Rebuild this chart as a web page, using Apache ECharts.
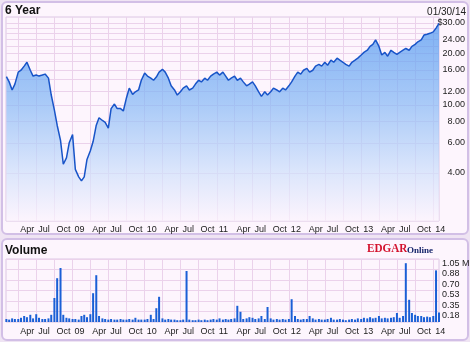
<!DOCTYPE html>
<html><head><meta charset="utf-8">
<script src="https://cdn.jsdelivr.net/npm/echarts@6/dist/echarts.min.js"></script>
<style>html,body{margin:0;padding:0;background:#efe4f3;}#c{width:470px;height:342px;}</style>
</head><body><div id="c"></div>
<script>
// ---------- data ----------
const startDate = '2008-01-30';
const endDate = '2014-01-30';
const dates = [
'2008-02-01','2008-02-15','2008-03-01','2008-03-15','2008-04-01','2008-04-15','2008-05-01','2008-05-15','2008-06-01','2008-06-15','2008-07-01','2008-07-15','2008-08-01','2008-08-15','2008-09-01','2008-09-15','2008-10-01','2008-10-15','2008-11-01','2008-11-15','2008-12-01','2008-12-15',
'2009-01-01','2009-01-15','2009-02-01','2009-02-15','2009-03-01','2009-03-15','2009-04-01','2009-04-15','2009-05-01','2009-05-15','2009-06-01','2009-06-15','2009-07-01','2009-07-15','2009-08-01','2009-08-15','2009-09-01','2009-09-15','2009-10-01','2009-10-15','2009-11-01','2009-11-15','2009-12-01','2009-12-15',
'2010-01-01','2010-01-15','2010-02-01','2010-02-15','2010-03-01','2010-03-15','2010-04-01','2010-04-15','2010-05-01','2010-05-15','2010-06-01','2010-06-15','2010-07-01','2010-07-15','2010-08-01','2010-08-15','2010-09-01','2010-09-15','2010-10-01','2010-10-15','2010-11-01','2010-11-15','2010-12-01','2010-12-15',
'2011-01-01','2011-01-15','2011-02-01','2011-02-15','2011-03-01','2011-03-15','2011-04-01','2011-04-15','2011-05-01','2011-05-15','2011-06-01','2011-06-15','2011-07-01','2011-07-15','2011-08-01','2011-08-15','2011-09-01','2011-09-15','2011-10-01','2011-10-15','2011-11-01','2011-11-15','2011-12-01','2011-12-15',
'2012-01-01','2012-01-15','2012-02-01','2012-02-15','2012-03-01','2012-03-15','2012-04-01','2012-04-15','2012-05-01','2012-05-15','2012-06-01','2012-06-15','2012-07-01','2012-07-15','2012-08-01','2012-08-15','2012-09-01','2012-09-15','2012-10-01','2012-10-15','2012-11-01','2012-11-15','2012-12-01','2012-12-15',
'2013-01-01','2013-01-15','2013-02-01','2013-02-15','2013-03-01','2013-03-15','2013-04-01','2013-04-15','2013-05-01','2013-05-15','2013-06-01','2013-06-15','2013-07-01','2013-07-15','2013-08-01','2013-08-15','2013-09-01','2013-09-15','2013-10-01','2013-10-15','2013-11-01','2013-11-15','2013-12-01','2013-12-15',
'2014-01-01','2014-01-15','2014-01-30'
];
const prices = [
14.6,13.6,12.2,13.2,15.5,15.9,16.8,17.7,15.9,14.7,14.9,14.7,14.9,15.1,14.3,11.4,9.3,7.6,6.2,4.5,4.9,6.0,
6.7,4.2,3.8,3.6,3.8,4.8,5.4,6.1,7.6,8.4,8.1,7.9,7.3,9.5,10.1,9.5,9.5,9.2,11.0,12.5,11.5,11.9,12.2,13.9,
15.3,14.7,14.3,13.9,14.5,15.5,16.1,15.5,14.3,12.9,12.2,11.4,11.9,12.5,12.9,12.2,12.5,13.2,13.9,13.6,14.3,13.9,14.7,15.1,
15.5,14.9,15.5,14.7,13.9,14.3,14.7,13.9,14.3,13.6,12.9,13.2,13.6,12.9,11.9,11.2,11.9,11.4,11.9,12.5,12.2,11.9,12.5,12.2,
12.9,13.6,14.7,15.5,15.1,15.9,16.3,15.5,15.9,16.8,17.2,16.8,17.7,17.0,18.2,17.7,18.7,18.2,17.7,17.2,16.8,17.7,18.2,18.7,
19.5,20.2,20.8,21.9,22.5,23.9,21.9,19.5,20.2,19.2,20.8,20.2,19.7,20.2,20.8,21.3,20.8,21.9,22.5,23.3,23.9,25.5,25.8,26.1,
26.6,28.0,29.8
];
const volumes = [
0.05,0.04,0.06,0.05,0.05,0.07,0.10,0.08,0.12,0.06,0.13,0.07,0.05,0.05,0.06,0.12,0.40,0.73,0.90,0.12,0.07,0.06,
0.05,0.05,0.04,0.10,0.12,0.08,0.13,0.48,0.78,0.10,0.06,0.05,0.04,0.05,0.04,0.04,0.05,0.04,0.04,0.05,0.04,0.07,0.04,0.04,
0.04,0.05,0.12,0.05,0.23,0.42,0.06,0.04,0.05,0.04,0.04,0.03,0.03,0.04,0.85,0.04,0.03,0.03,0.04,0.03,0.04,0.03,0.04,0.05,
0.04,0.06,0.04,0.05,0.04,0.05,0.06,0.27,0.17,0.05,0.06,0.08,0.07,0.05,0.06,0.10,0.05,0.25,0.06,0.04,0.05,0.04,0.05,0.04,
0.05,0.38,0.10,0.05,0.04,0.05,0.05,0.10,0.06,0.04,0.05,0.04,0.04,0.05,0.07,0.04,0.04,0.05,0.04,0.03,0.04,0.05,0.04,0.06,
0.05,0.07,0.06,0.08,0.06,0.07,0.10,0.06,0.07,0.06,0.07,0.08,0.15,0.07,0.10,0.98,0.37,0.15,0.12,0.10,0.10,0.08,0.09,0.08,
0.10,0.86,0.16
];
const quarterTicks = ['2008-04-01','2008-07-01','2008-10-01',
'2009-01-01','2009-04-01','2009-07-01','2009-10-01',
'2010-01-01','2010-04-01','2010-07-01','2010-10-01',
'2011-01-01','2011-04-01','2011-07-01','2011-10-01',
'2012-01-01','2012-04-01','2012-07-01','2012-10-01',
'2013-01-01','2013-04-01','2013-07-01','2013-10-01','2014-01-01'];
const quarterLabels = ['Apr','Jul','Oct','09','Apr','Jul','Oct','10','Apr','Jul','Oct','11','Apr','Jul','Oct','12','Apr','Jul','Oct','13','Apr','Jul','Oct','14'];
const priceTicks = [4,6,8,10,12,16,20,24,30];
const priceTickLabels = ['4.00','6.00','8.00','10.00','12.00','16.00','20.00','24.00','$30.00'];
const priceGridValues = [4,6,8,10,12,14,16,18,20,22,24,26,28,30];
const priceMin = 2.1, priceMax = 32.5;
const volTicks = [0.175,0.35,0.525,0.70,0.875,1.05];
const volTickLabels = ['0.18','0.35','0.53','0.70','0.88','1.05 M'];
const volMax = 1.05;

// ---------- helpers ----------
const ts = s => { const p = s.split('-').map(Number); return Date.UTC(p[0], p[1]-1, p[2]); };
const nearest = (arr, v) => { let bi = 0, bd = Infinity; arr.forEach((a, i) => { const d = Math.abs(a - v); if (d < bd) { bd = d; bi = i; } }); return bi; };
const quarterTs = quarterTicks.map(ts);
const priceLogTicks = priceTicks.map(Math.log10);
const priceLogGrid = priceGridValues.map(Math.log10);
const priceData = dates.map((d, i) => [ts(d), prices[i]]);
const volData = dates.map((d, i) => [ts(d), volumes[i]]);

const FONT = 'Liberation Sans';
const GRIDC = '#ebd2eb';
const LBL = '#222';

function xAxisFor(gridIndex, margin) {
  return {
    type: 'value', gridIndex, min: ts(startDate), max: ts(endDate), scale: true,
    axisLine: {show: false},
    axisTick: {show: false, customValues: quarterTs},
    axisLabel: {
      customValues: quarterTs,
      formatter: v => quarterLabels[nearest(quarterTs, v)],
      align: 'left', padding: [0, 0, 0, 2], margin,
      fontSize: 9, color: LBL, fontFamily: FONT
    },
    splitLine: {show: true, lineStyle: {color: GRIDC, width: 1}}
  };
}

const chart = echarts.init(document.getElementById('c'));
chart.setOption({
  animation: false,
  backgroundColor: '#efe4f3',
  textStyle: {fontFamily: FONT},
  graphic: [
    {type: 'rect', z: -10, shape: {x: 2, y: 2, width: 466, height: 232, r: 5},
     style: {fill: '#fdf5fd', stroke: '#d2bfe6', lineWidth: 2}},
    {type: 'rect', z: -10, shape: {x: 2, y: 239, width: 466, height: 101, r: 5},
     style: {fill: '#fdf5fd', stroke: '#d2bfe6', lineWidth: 2}},
    {type: 'text', z: 10, style: {text: '6 Year', x: 5, y: 11, font: 'bold 12px "Liberation Sans"', fill: '#111', align: 'left', verticalAlign: 'middle'}},
    {type: 'text', z: 10, style: {text: '01/30/14', x: 466, y: 12, font: '10px "Liberation Sans"', fill: LBL, align: 'right', verticalAlign: 'middle'}},
    {type: 'text', z: 10, style: {text: 'Volume', x: 5, y: 251, font: 'bold 12px "Liberation Sans"', fill: '#111', align: 'left', verticalAlign: 'middle'}},
    {type: 'text', z: 10, x: 367, y: 249, scaleX: 0.86,
     style: {text: 'EDGAR', x: 0, y: 0, font: 'bold 13px "Liberation Serif"', fill: '#d3122d', align: 'left', verticalAlign: 'middle'}},
    {type: 'text', z: 10, style: {text: 'Online', x: 407, y: 250.5, font: 'bold 9px "Liberation Serif"', fill: '#17266b', align: 'left', verticalAlign: 'middle'}}
  ],
  grid: [
    {left: 6, right: 31, top: 17, height: 204, show: true, backgroundColor: '#fdf5fd', borderColor: '#dcc6e4', borderWidth: 1, outerBoundsMode: 'none', containLabel: false},
    {left: 6, right: 31, top: 259, height: 63, show: true, backgroundColor: '#fdf5fd', borderColor: '#dcc6e4', borderWidth: 1, outerBoundsMode: 'none', containLabel: false}
  ],
  xAxis: [xAxisFor(0, 4), xAxisFor(1, 5)],
  yAxis: [
    {type: 'log', gridIndex: 0, min: priceMin, max: priceMax, show: false},
    {type: 'value', gridIndex: 0, position: 'right', min: Math.log10(priceMin), max: Math.log10(priceMax),
     axisLine: {show: false},
     axisTick: {show: false, customValues: priceLogGrid},
     axisLabel: {customValues: priceLogTicks, formatter: v => priceTickLabels[nearest(priceLogTicks, v)],
       align: 'right', margin: 26, fontSize: 9, color: LBL, fontFamily: FONT},
     splitLine: {show: true, lineStyle: {color: GRIDC, width: 1}}},
    {type: 'value', gridIndex: 1, position: 'right', min: 0, max: volMax,
     axisLine: {show: false},
     axisTick: {show: false, customValues: volTicks},
     axisLabel: {customValues: volTicks, formatter: v => volTickLabels[nearest(volTicks, v)],
       align: 'left', verticalAlign: 'top', margin: 3, fontSize: 9, color: LBL, fontFamily: FONT},
     splitLine: {show: true, lineStyle: {color: GRIDC, width: 1}}}
  ],
  series: [
    {type: 'line', xAxisIndex: 0, yAxisIndex: 0, data: priceData, symbol: 'none', smooth: false,
     lineStyle: {color: '#1854c8', width: 1.5},
     areaStyle: {color: new echarts.graphic.LinearGradient(0, 0, 0, 1, [
       {offset: 0, color: '#4a94ef'}, {offset: 0.4, color: '#84b7f5'},
       {offset: 0.75, color: '#cddffb'}, {offset: 1, color: '#fcf4fd'}])},
     z: 3},
    {type: 'bar', xAxisIndex: 1, yAxisIndex: 2, data: volData, barWidth: 2,
     itemStyle: {color: '#1a5fd6'}}
  ]
});
</script>
</body></html>
